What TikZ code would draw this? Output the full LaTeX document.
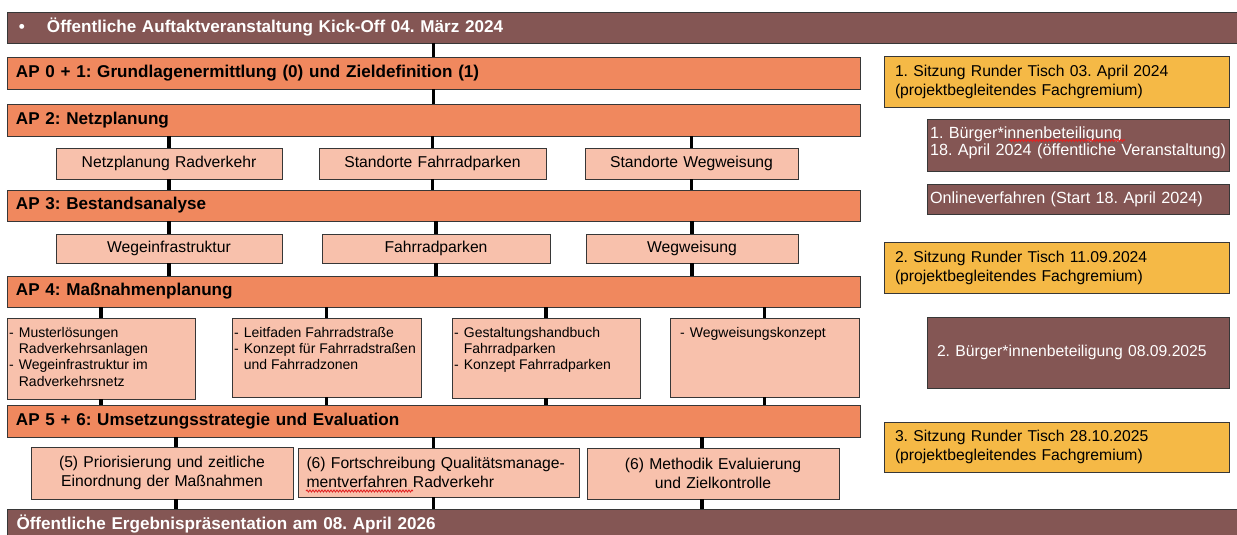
\documentclass[tikz,border=0pt]{standalone}
\usepackage{fontspec}
\setmainfont{Liberation Sans}
\frenchspacing
\usetikzlibrary{decorations.pathmorphing}
\definecolor{bannerc}{RGB}{132,86,84}
\definecolor{barc}{RGB}{240,136,94}
\definecolor{subc}{RGB}{248,193,172}
\definecolor{goldc}{RGB}{245,185,70}
\definecolor{edgec}{RGB}{55,55,55}
\definecolor{squig}{RGB}{225,35,35}
\newcommand{\lowerpad}[1]{\rule[-#1]{0pt}{0pt}}
\begin{document}
\begin{tikzpicture}[x=1pt,y=-1pt,
  box/.style={draw=edgec, line width=0.8pt, anchor=north west, outer sep=0pt, inner ysep=0pt},
  sz/.style n args={3}{minimum width=#1, minimum height=#2, text width=#3},
  bannerbox/.style={box, fill=bannerc, text=white, inner xsep=12pt, align=left, font=\fontsize{17.1}{20}\bfseries\selectfont},
  barbox/.style={box, fill=barc, text=black, inner xsep=9pt, align=left, font=\fontsize{17.1}{20}\bfseries\selectfont},
  subbox/.style={box, fill=subc, text=black, inner xsep=4pt, align=center, font=\fontsize{15.7}{19}\selectfont},
  mbox/.style={box, fill=subc},
  mtext/.style={anchor=north west, inner sep=0pt, align=left, font=\fontsize{14}{16.3}\selectfont},
  goldbox/.style={box, fill=goldc, text=black, inner xsep=11pt, align=left, font=\fontsize{15.7}{19}\selectfont},
  brownbox/.style={box, fill=bannerc, text=white, inner xsep=3pt, align=left, font=\fontsize{16.2}{17}\selectfont},
  conn/.style={draw=black, line width=3.6pt},
  wavy/.style={draw=squig, line width=0.9pt, decorate, decoration={snake, segment length=3pt, amplitude=1pt}}
]
\useasboundingbox (0,0) rectangle (1237,535);

% left column
\node[bannerbox, sz={1233}{31}{1209}] (top) at (7,12) {•\hspace{22pt}Öffentliche Auftaktveranstaltung Kick-Off 04. März 2024};
\node[barbox, sz={853}{32}{835}] (ap01) at (7,57) {AP 0 + 1: Grundlagenermittlung (0) und Zieldefinition (1)};
\node[barbox, sz={853}{32}{835}] (ap2) at (7,104) {AP 2: Netzplanung};
\node[subbox, sz={226}{31}{218}] (r1a) at (56,148) {Netzplanung Radverkehr};
\node[subbox, sz={227}{31}{219}] (r1b) at (319,148) {Standorte Fahrradparken};
\node[subbox, sz={213}{31}{205}] (r1c) at (585,148) {Standorte Wegweisung};
\node[barbox, sz={853}{31}{835}] (ap3) at (7,190) {AP 3: Bestandsanalyse};
\node[subbox, sz={226}{29}{218}] (r2a) at (56,234) {Wegeinfrastruktur};
\node[subbox, sz={228}{29}{220}] (r2b) at (322,234) {Fahrradparken};
\node[subbox, sz={212}{29}{204}] (r2c) at (586,234) {Wegweisung};
\node[barbox, sz={853}{31}{835}] (ap4) at (7,276) {AP 4: Maßnahmenplanung};
\node[mbox, minimum width=188, minimum height=81] (m1) at (7,318) {};
\node[mbox, minimum width=189, minimum height=79] (m2) at (232,318) {};
\node[mbox, minimum width=188, minimum height=80] (m3) at (452,318) {};
\node[mbox, minimum width=189, minimum height=79] (m4) at (670,318) {};
\node[mtext] (m1t) at ([xshift=2pt,yshift=-7.5pt]m1.north west) {\begin{tabular}{@{}l@{\hspace{5pt}}l@{}}-&Musterlösungen\\ &Radverkehrsanlagen\\ -&Wegeinfrastruktur im\\ &Radverkehrsnetz\end{tabular}};
\node[mtext] (m2t) at ([xshift=2pt,yshift=-7.5pt]m2.north west) {\begin{tabular}{@{}l@{\hspace{5pt}}l@{}}-&Leitfaden Fahrradstraße\\ -&Konzept für Fahrradstraßen\\ &und Fahrradzonen\end{tabular}};
\node[mtext] (m3t) at ([xshift=2pt,yshift=-7.5pt]m3.north west) {\begin{tabular}{@{}l@{\hspace{5pt}}l@{}}-&Gestaltungshandbuch\\ &Fahrradparken\\ -&Konzept Fahrradparken\end{tabular}};
\node[mtext] (m4t) at ([xshift=10pt,yshift=-7.5pt]m4.north west) {\begin{tabular}{@{}l@{\hspace{5pt}}l@{}}-&Wegweisungskonzept\end{tabular}};
\node[barbox, sz={853}{32}{835}] (ap56) at (7,405) {AP 5 + 6: Umsetzungsstrategie und Evaluation};
\node[subbox, sz={262}{52}{254}] (s1) at (31,447) {(5) Priorisierung und zeitliche\\Einordnung der Maßnahmen};
\node[subbox, sz={281}{49}{264}, align=left, inner xsep=8.5pt] (s2) at (298,448) {(6) Fortschreibung Qualitätsmanage-\\mentverfahren Radverkehr};
\node[subbox, sz={252}{51}{244}] (s3) at (587,448) {(6) Methodik Evaluierung\\und Zielkontrolle};
\node[bannerbox, sz={1233}{34}{1214}, inner xsep=9.5pt] (bot) at (7,509) {Öffentliche Ergebnispräsentation am 08. April 2026\lowerpad{8pt}};

% right column
\node[goldbox, sz={345}{51}{323}] (y1) at (884,56) {1. Sitzung Runder Tisch 03. April 2024\\(projektbegleitendes Fachgremium)};
\node[brownbox, sz={302}{52}{296}] (b1) at (927,119) {1. Bürger*innenbeteiligung\\18. April 2024 (öffentliche Veranstaltung)\lowerpad{7pt}};
\node[brownbox, sz={302}{30}{296}] (b2) at (927,184) {Onlineverfahren (Start 18. April 2024)};
\node[goldbox, sz={345}{51}{323}] (y2) at (884,242) {2. Sitzung Runder Tisch 11.09.2024\\(projektbegleitendes Fachgremium)};
\node[brownbox, sz={302}{71}{282}, inner xsep=10pt, font=\fontsize{15.7}{19}\selectfont] (b3) at (927,317) {2. Bürger*innenbeteiligung 08.09.2025};
\node[goldbox, sz={345}{50}{323}] (y3) at (884,422) {3. Sitzung Runder Tisch 28.10.2025\\(projektbegleitendes Fachgremium)};

% connectors
\draw[conn] (top.south -| ap01.north) -- (ap01.north);
\draw[conn] (ap01.south) -- (ap2.north);
\foreach \n in {r1a,r1b,r1c} {
  \draw[conn] (ap2.south -| \n.north) -- (\n.north);
  \draw[conn] (\n.south) -- (ap3.north -| \n.south);
}
\foreach \n in {r2a,r2b,r2c} {
  \draw[conn] (ap3.south -| \n.north) -- (\n.north);
  \draw[conn] (\n.south) -- (ap4.north -| \n.south);
}
\foreach \n in {m1,m2,m3,m4} {
  \draw[conn] (ap4.south -| \n.north) -- (\n.north);
  \draw[conn] (\n.south) -- (ap56.north -| \n.south);
}
\draw[conn] (ap56.south -| s1.north) ++(14,0) coordinate (c1) -- (c1 |- s1.north);
\draw[conn] (s1.south) ++(14,0) coordinate (c2) -- (c2 |- bot.north);
\draw[conn] (ap56.south) -- (ap56.south |- s2.north);
\draw[conn] (ap56.south |- s2.south) -- (ap56.south |- bot.north);
\draw[conn] (ap56.south -| s3.north) ++(-11,0) coordinate (c3) -- (c3 |- s3.north);
\draw[conn] (s3.south) ++(-11,0) coordinate (c4) -- (c4 |- bot.north);

% spell-check squiggles
\draw[wavy] (1009,140.5) -- (1125,140.5);
\draw[wavy] (306,491) -- (413,491);
\end{tikzpicture}
\end{document}
